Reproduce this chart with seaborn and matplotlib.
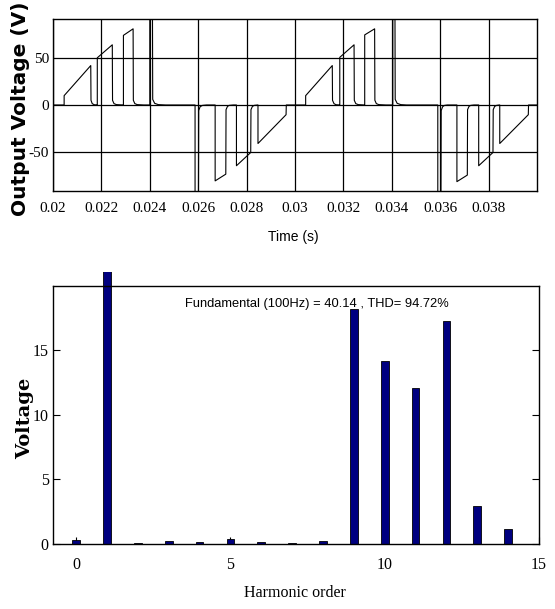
import matplotlib
matplotlib.use("Agg")
import matplotlib.pyplot as plt
import seaborn as sns
import pandas as pd
from matplotlib.patches import Rectangle

# ---------------- data: output voltage waveform (vertices) ----------------
time_s = [
    0.02000, 0.02046, 0.02046, 0.02156, 0.02157, 0.02162, 0.02170, 0.02182,
    0.02183, 0.02183, 0.02245, 0.02246, 0.02252, 0.02262, 0.02290,
    0.02291, 0.02291, 0.02331, 0.02332, 0.02338, 0.02348, 0.02375,
    0.02400, 0.02400, 0.02411, 0.02412, 0.02420, 0.02435, 0.02465,
    0.02587, 0.02587, 0.02601, 0.02602, 0.02608, 0.02618, 0.02635,
    0.02670, 0.02670, 0.02714, 0.02715, 0.02721, 0.02728, 0.02745,
    0.02758, 0.02758, 0.02817, 0.02818, 0.02824, 0.02832, 0.02846,
    0.02847, 0.02847, 0.02963, 0.02964,
    0.03044, 0.03044, 0.03154, 0.03155, 0.03161, 0.03169, 0.03184,
    0.03185, 0.03185, 0.03244, 0.03245, 0.03251, 0.03261, 0.03287,
    0.03288, 0.03288, 0.03329, 0.03330, 0.03336, 0.03346, 0.03375,
    0.03404, 0.03404, 0.03413, 0.03414, 0.03422, 0.03437, 0.03460,
    0.03590, 0.03590, 0.03603, 0.03604, 0.03610, 0.03618, 0.03630,
    0.03669, 0.03669, 0.03712, 0.03713, 0.03719, 0.03726, 0.03740,
    0.03759, 0.03759, 0.03818, 0.03819, 0.03825, 0.03833, 0.03845,
    0.03846, 0.03846, 0.03964, 0.03965, 0.04000,
]
volt_v = [
    0, 0, 10, 42.2, 5, 1.5, 0.3, 0,
    0, 50.5, 64.4, 5, 1.5, 0.4, 0,
    0, 74.5, 81.5, 5, 1.5, 0.4, 0,
    0, 100, 100, 6, 1.8, 0.4, 0,
    0, -100, -100, -6, -1.8, -0.4, 0,
    0, -81.2, -74, -5, -1.5, -0.4, 0,
    0, -65, -50.8, -5, -1.5, -0.4, 0,
    0, -41.2, -10.4, 0,
    0, 10, 42.2, 5, 1.5, 0.3, 0,
    0, 51, 64.4, 5, 1.5, 0.4, 0,
    0, 75, 81.5, 5, 1.5, 0.4, 0,
    0, 100, 100, 6, 1.8, 0.4, 0,
    0, -100, -100, -6, -1.8, -0.4, 0,
    0, -82, -75, -5, -1.5, -0.4, 0,
    0, -65, -50.8, -5, -1.5, -0.4, 0,
    0, -41.2, -10.4, 0, 0,
]
time_ticks = [0.020, 0.022, 0.024, 0.026, 0.028, 0.030, 0.032, 0.034, 0.036, 0.038]
time_tick_labels = ["0.02", "0.022", "0.024", "0.026", "0.028", "0.03",
                    "0.032", "0.034", "0.036", "0.038"]
volt_ticks = [-50, 0, 50]
volt_tick_labels = ["-50", "0", "50"]

# ---------------- data: harmonic spectrum ----------------
harmonic_order = [0, 1, 2, 3, 4, 5, 6, 7, 8, 9, 10, 11, 12, 13, 14]
harmonic_voltage = [0.3, 40.14, 0.05, 0.25, 0.18, 0.42, 0.18, 0.1, 0.25,
                    18.17, 14.15, 12.1, 17.26, 2.97, 1.16]
harm_ticks = [0, 5, 10, 15]
harm_volt_ticks = [0, 5, 10, 15]
annotation = "Fundamental (100Hz) = 40.14 , THD= 94.72%"

# ---------------- style ----------------
sns.set_style("white")
plt.rcParams.update({
    "axes.unicode_minus": False,
    "axes.edgecolor": "black",
    "axes.linewidth": 1.0,
    "text.color": "black",
    "axes.labelcolor": "black",
    "xtick.color": "black",
    "ytick.color": "black",
})

fig = plt.figure(figsize=(5.55, 6.09), dpi=100)

# ---------------- top: waveform ----------------
ax1 = fig.add_axes([0.0955, 0.6864, 0.8721, 0.2824])
ax1.set_axisbelow(True)
sns.lineplot(x=time_s, y=volt_v, sort=False, estimator=None,
             color="black", linewidth=0.8, ax=ax1)
ax1.set_xlim(0.02, 0.04)
ax1.set_ylim(-92, 92)
ax1.set_xticks(time_ticks)
ax1.set_xticklabels(time_tick_labels)
ax1.set_yticks(volt_ticks)
ax1.set_yticklabels(volt_tick_labels)
ax1.grid(True, color="black", linewidth=0.9, linestyle="-")
ax1.tick_params(direction="in", length=2, labelsize=11,
                labelfontfamily="Liberation Serif", colors="black")
ax1.tick_params(axis="x", pad=8)
ax1.tick_params(axis="y", pad=3)
for s in ax1.spines.values():
    s.set_visible(True)
    s.set_color("black")
ax1.set_xlabel("Time (s)", family="Liberation Sans", fontsize=10, va="center")
ax1.xaxis.set_label_coords(0.497, -0.267)
ax1.set_ylabel("Output Voltage (V)", family="DejaVu Sans", fontweight="bold",
               fontsize=14.5, va="center")
ax1.yaxis.set_label_coords(-0.068, 0.48)

# ---------------- bottom: harmonic spectrum ----------------
ax2 = fig.add_axes([0.0955, 0.1067, 0.8757, 0.4241])
sns.barplot(x=harmonic_order, y=harmonic_voltage, native_scale=True, width=0.25,
            color="#000080", saturation=1, edgecolor="black", linewidth=0.6, ax=ax2)
ax2.set_xlim(-0.75, 15)
ax2.set_ylim(0, 20)
ax2.set_xticks(harm_ticks)
ax2.set_xticklabels([str(v) for v in harm_ticks])
ax2.set_yticks(harm_volt_ticks)
ax2.set_yticklabels([str(v) for v in harm_volt_ticks])
ax2.grid(False)
ax2.tick_params(direction="in", length=5, labelsize=11.5,
                labelfontfamily="Liberation Serif", colors="black",
                left=True, right=True, bottom=True)
ax2.tick_params(axis="x", pad=9)
ax2.tick_params(axis="y", pad=3)
for s in ax2.spines.values():
    s.set_visible(True)
    s.set_color("black")
# fundamental bar runs past the top of the frame, as in the original
clip_rect = Rectangle((0, 0), 1, 1.055, transform=ax2.transAxes)
for p in ax2.patches:
    p.set_clip_path(clip_rect)
ax2.text(0.543, 0.919, annotation, transform=ax2.transAxes, ha="center", va="baseline",
         family="Liberation Sans", fontsize=9.3)
ax2.set_xlabel("Harmonic order", family="Liberation Serif", fontsize=11.5, va="center")
ax2.xaxis.set_label_coords(0.498, -0.19)
ax2.set_ylabel("Voltage", family="DejaVu Serif", fontweight="bold", fontsize=14,
               va="center")
ax2.yaxis.set_label_coords(-0.058, 0.488)

fig.savefig("out.png", dpi=100)
